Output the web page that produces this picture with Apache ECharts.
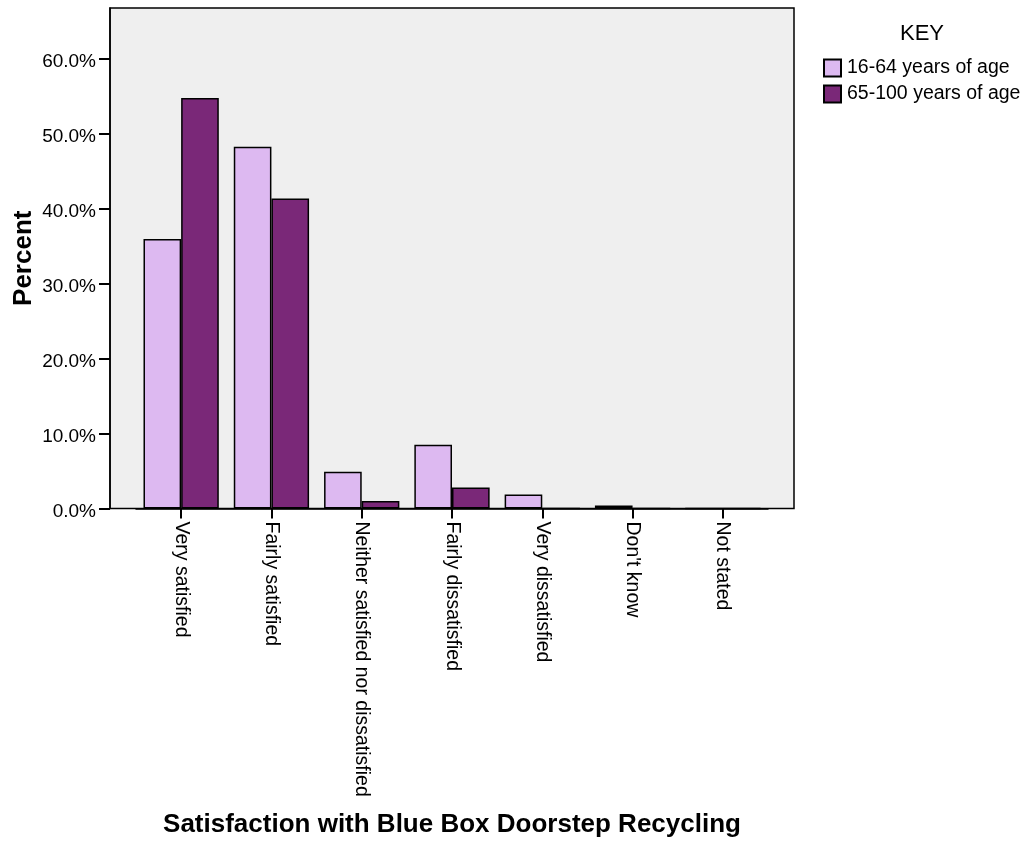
<!DOCTYPE html>
<html>
<head>
<meta charset="utf-8">
<script src="https://cdn.jsdelivr.net/npm/echarts@6/dist/echarts.min.js"></script>
<style>
  html, body { margin: 0; padding: 0; background: #ffffff; }
  #chart { width: 1027px; height: 842px; }
</style>
</head>
<body>
<div id="chart"></div>
<script>
const categories = ['Very satisfied', 'Fairly satisfied', 'Neither satisfied nor dissatisfied', 'Fairly dissatisfied', 'Very dissatisfied', "Don't know", 'Not stated'];
const seriesNames = ['16-64 years of age', '65-100 years of age'];
const age16to64 = [35.9, 48.2, 4.9, 8.5, 1.85, 0.4, 0];
const age65to100 = [54.7, 41.3, 1.0, 2.8, 0, 0, 0];
const yTicks = [0, 10, 20, 30, 40, 50, 60];

const FONT = '"Liberation Sans", Arial, sans-serif';
const chart = echarts.init(document.getElementById('chart'), null, { renderer: 'canvas' });

chart.setOption({
  backgroundColor: '#ffffff',
  animation: false,
  textStyle: { fontFamily: FONT, color: '#000' },
  title: {
    text: 'KEY',
    left: 900,
    top: 23,
    padding: 0,
    textStyle: { fontFamily: FONT, fontSize: 22, fontWeight: 'normal', color: '#000' }
  },
  legend: {
    orient: 'vertical',
    left: 823,
    top: 58,
    padding: 0,
    itemWidth: 17,
    itemHeight: 17,
    itemGap: 6,
    icon: 'rect',
    data: seriesNames,
    textStyle: { fontFamily: FONT, fontSize: 19.5, color: '#000', padding: [0, 0, 0, 1] }
  },
  grid: [
    { left: 110, top: 8, width: 684, height: 500.5, show: true, backgroundColor: '#EFEFEF', borderColor: '#000', borderWidth: 1.5, containLabel: false, outerBoundsMode: 'none' },
    { left: 136, top: 8, width: 632, height: 500.5, containLabel: false, outerBoundsMode: 'none' }
  ],
  xAxis: [
    { type: 'value', gridIndex: 0, show: false, min: 0, max: 1 },
    {
      type: 'category',
      gridIndex: 1,
      data: categories,
      boundaryGap: true,
      axisLine: { show: true, lineStyle: { color: '#000', width: 1.5 } },
      axisTick: { show: true, alignWithLabel: true, length: 10, lineStyle: { color: '#000', width: 2 } },
      axisLabel: { rotate: -90, margin: 13, interval: 0, fontFamily: FONT, fontSize: 19.5, color: '#000' },
      name: 'Satisfaction with Blue Box Doorstep Recycling',
      nameLocation: 'middle',
      nameGap: 303,
      nameMoveOverlap: false,
      nameTextStyle: { fontFamily: FONT, fontSize: 26, fontWeight: 'bold', color: '#000' },
      splitLine: { show: false }
    }
  ],
  yAxis: [
    { type: 'value', gridIndex: 0, show: false, min: 0, max: 1 },
    {
      type: 'value',
      gridIndex: 1,
      min: 0,
      max: 66.7,
      offset: 26,
      axisLine: { show: true, lineStyle: { color: '#000', width: 1.5 } },
      axisTick: { show: true, length: 11, customValues: yTicks, lineStyle: { color: '#000', width: 2 } },
      axisLabel: {
        customValues: yTicks,
        margin: 14,
        verticalAlign: 'top',
        lineHeight: 6,
        fontFamily: FONT,
        fontSize: 19,
        color: '#000',
        formatter: function (v) { return v.toFixed(1) + '%'; }
      },
      splitLine: { show: false },
      name: 'Percent',
      nameLocation: 'middle',
      nameRotate: 90,
      nameGap: 73,
      nameMoveOverlap: false,
      nameTextStyle: { fontFamily: FONT, fontSize: 26, fontWeight: 'bold', color: '#000' }
    }
  ],
  series: [
    {
      name: seriesNames[0],
      type: 'bar',
      xAxisIndex: 1,
      yAxisIndex: 1,
      data: age16to64,
      barGap: '0%',
      barCategoryGap: '16.6%',
      itemStyle: { color: '#DDB9F1', borderColor: '#000', borderWidth: 1.5 }
    },
    {
      name: seriesNames[1],
      type: 'bar',
      xAxisIndex: 1,
      yAxisIndex: 1,
      data: age65to100,
      barGap: '0%',
      barCategoryGap: '16.6%',
      itemStyle: { color: '#7A2878', borderColor: '#000', borderWidth: 1.5 }
    }
  ]
});
</script>
</body>
</html>
